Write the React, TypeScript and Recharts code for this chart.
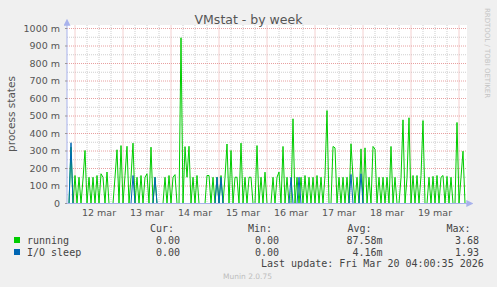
import { LineChart, Line, XAxis, YAxis, CartesianGrid, ReferenceLine } from 'recharts'

// hourly samples, hour 0 = 11 mar 20:00, last point = 20 mar 04:00
const mar11 = [0, 0, 322, 0]
const mar12 = [160, 0, 150, 0, 140, 303, 0, 150, 0, 150, 0, 160, 0, 170, 150, 0, 180, 0, 0, 0, 150, 307, 0, 331]
const mar13 = [0, 160, 327, 0, 150, 345, 0, 150, 0, 160, 0, 150, 170, 0, 322, 0, 150, 0, 0, 0, 0, 150, 0, 160]
const mar14 = [0, 150, 165, 0, 0, 947, 0, 325, 150, 327, 0, 150, 0, 160, 0, 0, 0, 0, 160, 160, 0, 150, 0, 150]
const mar15 = [0, 160, 0, 150, 340, 0, 303, 0, 150, 150, 0, 345, 0, 150, 0, 150, 150, 0, 0, 331, 0, 150, 0, 179]
const mar16 = [0, 0, 0, 150, 0, 150, 180, 0, 326, 0, 150, 0, 0, 484, 0, 150, 0, 150, 0, 160, 0, 150, 0, 150]
const mar17 = [0, 160, 0, 150, 0, 160, 531, 0, 0, 326, 318, 0, 150, 0, 150, 0, 150, 0, 341, 150, 0, 150, 0, 312]
const mar18 = [0, 318, 0, 150, 0, 326, 310, 0, 150, 0, 150, 0, 150, 0, 326, 0, 150, 0, 0, 147, 478, 0, 147, 490]
const mar19 = [0, 160, 0, 160, 0, 160, 474, 0, 0, 150, 0, 155, 0, 160, 0, 150, 160, 0, 155, 0, 150, 0, 0, 463]
const mar20 = [0, 150, 299, 0, 0]

const ioSleepHours = [2, 33, 44, 75, 77, 112, 116, 142, 147]
const ioSleepValues = [347, 160, 150, 150, 150, 150, 150, 166, 170]

const dayLabels = ['12 mar', '13 mar', '14 mar', '15 mar', '16 mar', '17 mar', '18 mar', '19 mar']
const labelHours = [16, 40, 64, 88, 112, 136, 160, 184]
const midnightHours = [4, 28, 52, 76, 100, 124, 148, 172, 196]
const sixHourLines = [10, 16, 22, 34, 40, 46, 58, 64, 70, 82, 88, 94, 106, 112, 118, 130, 136, 142, 154, 160, 166, 178, 184, 190]
const yTicks = [0, 100, 200, 300, 400, 500, 600, 700, 800, 900, 1000]
const yMinor = [50, 150, 250, 350, 450, 550, 650, 750, 850, 950]

const running = [...mar11, ...mar12, ...mar13, ...mar14, ...mar15, ...mar16, ...mar17, ...mar18, ...mar19, ...mar20]
const rows = running.map((v, h) => {
  const i = ioSleepHours.indexOf(h)
  return { h, running: v, io: i >= 0 ? ioSleepValues[i] : 0 }
})

const AXIS = '#a8b2ec'
const TXT = '#555'
const MAJOR = '#e8a0a0'
const MONO = '"DejaVu Sans Mono", monospace'

export default function App() {
  return (
    <div
      style={{
        position: 'absolute',
        left: 0,
        top: 0,
        width: 497,
        height: 287,
        background: '#f0f0f0',
        fontFamily: '"DejaVu Sans", sans-serif',
        overflow: 'hidden',
      }}
    >
      <LineChart width={497} height={287} data={rows} margin={{ top: 25, right: 30, bottom: 63.5, left: 0 }}>
        <defs>
          <marker
            id="arr"
            viewBox="0 0 10 10"
            refX="1"
            refY="5"
            markerWidth="7"
            markerHeight="7"
            markerUnits="userSpaceOnUse"
            orient="auto-start-reverse"
          >
            <path d="M0,0 L10,5 L0,10 z" fill={AXIS} />
          </marker>
        </defs>
        {/* minor grid: 50m / 6h */}
        <CartesianGrid
          fill="#fff"
          stroke="#cfcfcf"
          strokeDasharray="1 1"
          horizontalValues={yMinor}
          verticalValues={sixHourLines}
        />
        {/* major grid: 100m / midnight */}
        {yTicks.slice(1).map((v) => (
          <ReferenceLine key={`y${v}`} y={v} stroke={MAJOR} strokeDasharray="1 1" />
        ))}
        {midnightHours.map((h) => (
          <ReferenceLine key={`x${h}`} x={h} stroke={MAJOR} strokeDasharray="1 1" />
        ))}
        <XAxis
          type="number"
          dataKey="h"
          domain={[0, 200]}
          ticks={labelHours}
          tickFormatter={(v: number) => dayLabels[labelHours.indexOf(v)] ?? ''}
          height={20}
          tickLine={false}
          tickSize={0}
          tickMargin={6}
          axisLine={{ stroke: AXIS, markerEnd: 'url(#arr)' }}
          tick={{ fontSize: 9.5, fill: TXT }}
          interval={0}
        />
        <YAxis
          type="number"
          domain={[0, 1020]}
          ticks={yTicks}
          tickFormatter={(v: number) => (v === 0 ? '0' : `${v} m`)}
          width={67}
          tickSize={2}
          tickMargin={5}
          tickLine={{ stroke: '#999' }}
          axisLine={{ stroke: AXIS, markerStart: 'url(#arr)' }}
          tick={{ fontSize: 9.5, fill: TXT }}
          interval={0}
        />
        <Line
          type="linear"
          dataKey="running"
          stroke="#00cc00"
          strokeWidth={1}
          dot={false}
          isAnimationActive={false}
        />
        <Line
          type="linear"
          dataKey="io"
          stroke="#0066b3"
          strokeWidth={1}
          dot={false}
          isAnimationActive={false}
        />
      </LineChart>

      <svg width={497} height={287} style={{ position: 'absolute', left: 0, top: 0, pointerEvents: 'none' }}>
        <text x={248.5} y={24} textAnchor="middle" fontSize={12.5} fill="#555">
          VMstat - by week
        </text>
        <text x={15} y={114} textAnchor="middle" fontSize={10.5} fill={TXT} transform="rotate(-90 15 114)">
          process states
        </text>
        <text x={485} y={53} textAnchor="middle" fontSize={7} fill="#c4c4c4" transform="rotate(90 485 53)">
          RRDTOOL / TOBI OETIKER
        </text>

        <g fontFamily={MONO} fontSize={10} fill="#444">
          <text x={150} y={232}>Cur:</text>
          <text x={248} y={232}>Min:</text>
          <text x={347.5} y={232}>Avg:</text>
          <text x={446.5} y={232}>Max:</text>

          <rect x={14} y={237} width={6} height={6} fill="#00cc00" />
          <text x={27} y={243.5}>running</text>
          <text x={156} y={243.5}>0.00</text>
          <text x={255} y={243.5}>0.00</text>
          <text x={346.5} y={243.5}>87.58m</text>
          <text x={455} y={243.5}>3.68</text>

          <rect x={14} y={249} width={6} height={6} fill="#0066b3" />
          <text x={27} y={255.5}>I/O sleep</text>
          <text x={156} y={255.5}>0.00</text>
          <text x={255} y={255.5}>0.00</text>
          <text x={352.5} y={255.5}>4.16m</text>
          <text x={455} y={255.5}>1.93</text>

          <text x={261} y={267}>Last update: Fri Mar 20 04:00:35 2026</text>
        </g>
        <text x={247.5} y={279} textAnchor="middle" fontSize={7.5} fill="#bdbdbd">
          Munin 2.0.75
        </text>
      </svg>
    </div>
  )
}
